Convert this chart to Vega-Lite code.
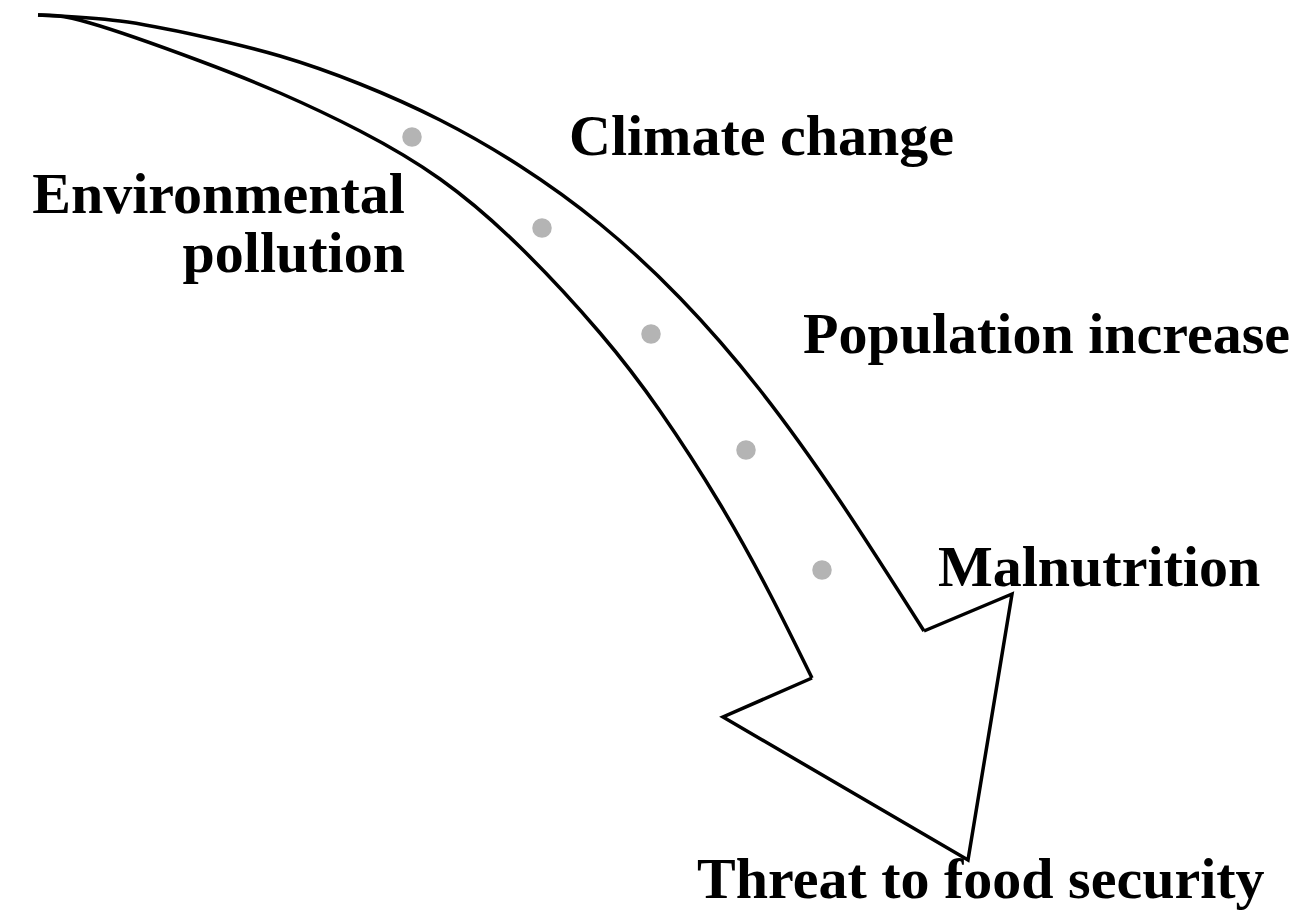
{
  "$schema": "https://vega.github.io/schema/vega-lite/v6.json",
  "width": 1309,
  "height": 910,
  "padding": 0,
  "autosize": {"type": "fit", "contains": "padding"},
  "background": "white",
  "config": {"view": {"stroke": null}},
  "datasets": {
    "outline": [
      {"seg": "upper", "i": 0, "x": 38, "y": 15},
      {"seg": "upper", "i": 1, "x": 120, "y": 21},
      {"seg": "upper", "i": 2, "x": 200, "y": 36},
      {"seg": "upper", "i": 3, "x": 280, "y": 56},
      {"seg": "upper", "i": 4, "x": 360, "y": 84},
      {"seg": "upper", "i": 5, "x": 440, "y": 120},
      {"seg": "upper", "i": 6, "x": 520, "y": 166},
      {"seg": "upper", "i": 7, "x": 600, "y": 224},
      {"seg": "upper", "i": 8, "x": 680, "y": 298},
      {"seg": "upper", "i": 9, "x": 760, "y": 390},
      {"seg": "upper", "i": 10, "x": 840, "y": 501},
      {"seg": "upper", "i": 11, "x": 924, "y": 631},
      {"seg": "lower", "i": 0, "x": 38, "y": 15},
      {"seg": "lower", "i": 1, "x": 90, "y": 23},
      {"seg": "lower", "i": 2, "x": 200, "y": 61},
      {"seg": "lower", "i": 3, "x": 280, "y": 93},
      {"seg": "lower", "i": 4, "x": 360, "y": 131},
      {"seg": "lower", "i": 5, "x": 440, "y": 179},
      {"seg": "lower", "i": 6, "x": 520, "y": 247},
      {"seg": "lower", "i": 7, "x": 600, "y": 333},
      {"seg": "lower", "i": 8, "x": 660, "y": 411},
      {"seg": "lower", "i": 9, "x": 720, "y": 504},
      {"seg": "lower", "i": 10, "x": 770, "y": 594},
      {"seg": "lower", "i": 11, "x": 812, "y": 678}
    ],
    "head": [
      {"i": 0, "x": 924, "y": 631},
      {"i": 1, "x": 1012, "y": 594},
      {"i": 2, "x": 968, "y": 860},
      {"i": 3, "x": 723, "y": 717},
      {"i": 4, "x": 812, "y": 678}
    ],
    "dots": [
      {"x": 412, "y": 137},
      {"x": 542, "y": 228},
      {"x": 651, "y": 334},
      {"x": 746, "y": 450},
      {"x": 822, "y": 570}
    ],
    "labelsLeft": [
      {"label": "Climate change", "x": 569, "y": 155},
      {"label": "Population increase", "x": 803, "y": 353},
      {"label": "Malnutrition", "x": 938, "y": 586},
      {"label": "Threat to food security", "x": 697, "y": 898}
    ],
    "labelsRight": [
      {"label": "Environmental", "x": 405, "y": 213},
      {"label": "pollution", "x": 405, "y": 272}
    ]
  },
  "encoding": {
    "x": {"field": "x", "type": "quantitative", "scale": {"domain": [0, 1309], "nice": false, "zero": false}, "axis": null},
    "y": {"field": "y", "type": "quantitative", "scale": {"domain": [0, 910], "nice": false, "zero": false, "reverse": true}, "axis": null}
  },
  "layer": [
    {
      "data": {"name": "outline"},
      "mark": {"type": "line", "interpolate": "natural", "color": "black", "strokeWidth": 3.5, "clip": false},
      "encoding": {
        "detail": {"field": "seg", "type": "nominal"},
        "order": {"field": "i", "type": "quantitative"}
      }
    },
    {
      "data": {"name": "head"},
      "mark": {"type": "line", "interpolate": "linear", "color": "black", "strokeWidth": 3.5, "strokeJoin": "miter", "clip": false},
      "encoding": {
        "order": {"field": "i", "type": "quantitative"}
      }
    },
    {
      "data": {"name": "dots"},
      "mark": {"type": "circle", "color": "#b4b4b4", "opacity": 1, "size": 380}
    },
    {
      "data": {"name": "labelsLeft"},
      "mark": {"type": "text", "align": "left", "baseline": "alphabetic", "font": "Liberation Serif", "fontWeight": "bold", "fontSize": 58, "color": "black"},
      "encoding": {"text": {"field": "label", "type": "nominal"}}
    },
    {
      "data": {"name": "labelsRight"},
      "mark": {"type": "text", "align": "right", "baseline": "alphabetic", "font": "Liberation Serif", "fontWeight": "bold", "fontSize": 58, "color": "black"},
      "encoding": {"text": {"field": "label", "type": "nominal"}}
    }
  ]
}
